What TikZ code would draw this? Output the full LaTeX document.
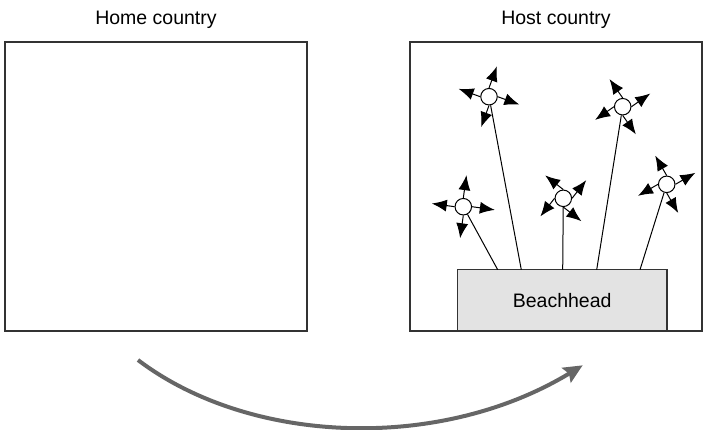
\documentclass[tikz,border=0pt]{standalone}
\usepackage{fontspec}
\setmainfont{Liberation Sans}
\usetikzlibrary{arrows.meta}

\begin{document}
\begin{tikzpicture}[x=1pt,y=-1pt,>=Latex,
    country/.style={draw=black!80,line width=1.4pt,inner sep=0pt},
    hub/.style={circle,draw,fill=white,line width=1pt,minimum size=16.5pt,inner sep=0pt},
    spoke/.style={line width=1pt,-{Latex[length=15pt,width=12pt]}},
    branch/.style={line width=1pt},
    bigarrow/.style={draw=black!60,line width=4pt,-{Stealth[length=19pt,width=17pt,inset=3pt]}}]
  \useasboundingbox (0,0) rectangle (704,429);
  \fontsize{19.5}{23}\selectfont

  % the two countries
  \node[country,minimum width=302pt,minimum height=289pt] (home) at (156,186.5) {};
  \node[country,minimum width=292pt,minimum height=289pt] (host) at (556,186.5) {};
  \node (homelabel) at (156,20) {Home country};
  \node (hostlabel) at (556,20) {Host country};

  \node[draw=black!80,line width=1.2pt,fill=black!11,minimum width=209.7pt,minimum height=61.3pt]
    (beach) at (562.2,300.3) {Beachhead};

  % points on top of the beachhead
  \coordinate (b1) at (497.7,269.7);
  \coordinate (b2) at (521.3,269.7);
  \coordinate (b3) at (562.7,269.7);
  \coordinate (b4) at (596.7,269.7);
  \coordinate (b5) at (640.0,269.7);

  % subsidiaries
  \node[hub] (c1) at (463.3,206.7) {};
  \node[hub] (c2) at (489.0,96.7) {};
  \node[hub] (c3) at (563.3,198.3) {};
  \node[hub] (c4) at (622.7,106.7) {};
  \node[hub] (c5) at (666.7,184.3) {};

  \foreach \i in {1,...,5}
    \draw[branch] (b\i) -- (c\i);

  % y runs downwards, so the polar angle is mirrored
  \foreach \i/\r in {1/-8,2/-20,3/52,4/35,5/30}
    \foreach \a [evaluate=\a as \b using int(\a+\r),
                 evaluate=\a as \m using int(-\a-\r)] in {0,90,180,270}
      \draw[spoke] (c\i.\b) -- ++(\m:23);

  % move abroad
  \coordinate (start) at (138,360);
  \coordinate (end) at (582.7,365.3);
  \draw[bigarrow] (start) .. controls (250,445) and (440,452) .. (end);
\end{tikzpicture}
\end{document}
